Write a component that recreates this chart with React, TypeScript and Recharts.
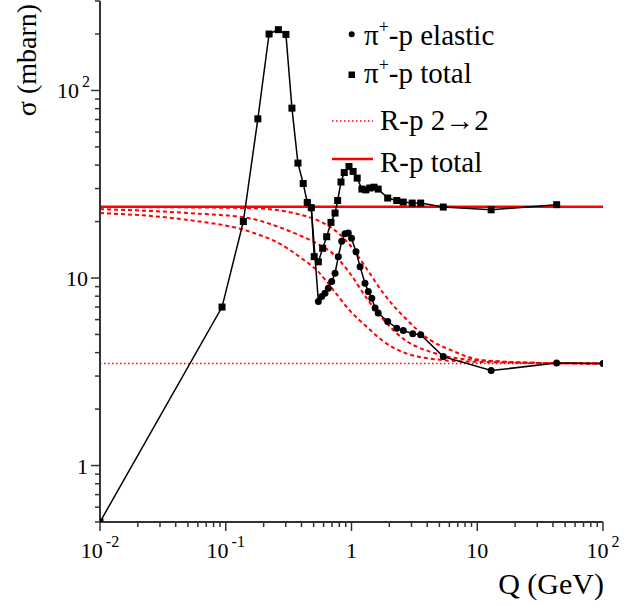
import React from "react";
import { LineChart, Line, XAxis, YAxis, ReferenceLine } from "recharts";

// pi+ p total cross-section (squares)
const totalQ = [0.01, 0.0934, 0.138, 0.18, 0.221, 0.262, 0.301, 0.336, 0.375, 0.413, 0.445, 0.479, 0.505, 0.545, 0.59, 0.635, 0.687, 0.74, 0.776, 0.825, 0.876, 0.955, 1.03, 1.11, 1.21, 1.3, 1.4, 1.51, 1.63, 1.94, 2.29, 2.58, 3.04, 3.55, 5.37, 12.9, 42.8];
const totalSigma = [0.5, 7.0, 20.0, 70.6, 200, 211, 199, 80.5, 41, 31.9, 25.3, 23.7, 13.0, 12.2, 14.4, 16.6, 19.8, 22.2, 25.9, 32.5, 36.5, 39.3, 37.0, 34.1, 29.8, 29.5, 30.2, 30.5, 29.8, 26.7, 25.9, 25.4, 25.1, 25.1, 23.9, 23.1, 24.6];

// pi+ p elastic cross-section (circles)
const elasticQ = [0.445, 0.479, 0.545, 0.579, 0.615, 0.654, 0.696, 0.74, 0.785, 0.836, 0.887, 0.943, 1.0, 1.086, 1.17, 1.28, 1.36, 1.45, 1.54, 1.63, 1.94, 2.29, 2.58, 3.07, 3.55, 5.37, 12.9, 42.8, 100];
const elasticSigma = [25.3, 23.7, 7.5, 7.97, 8.3, 8.83, 9.58, 10.6, 13.0, 15.7, 17.2, 17.4, 16.3, 13.8, 11.5, 9.39, 8.47, 7.81, 6.91, 6.5, 5.86, 5.4, 5.25, 5.04, 4.98, 3.81, 3.21, 3.52, 3.5];

// R-p 2->2 model curves (dashed)
const curveQ = [0.01, 0.05, 0.15, 0.27, 0.41, 0.53, 0.72, 0.97, 1.32, 1.79, 2.75, 4.2, 6.1, 10.5, 19, 36, 100];
const upperSigma = [23.9, 23.8, 23.6, 22.9, 21.6, 20.4, 18.2, 15.0, 11.2, 8.3, 6.0, 4.68, 4.14, 3.66, 3.56, 3.52, 3.5];
const middleSigma = [23.3, 22.2, 20.9, 18.6, 16.6, 15.3, 13.4, 10.6, 7.8, 6.0, 4.6, 4.05, 3.78, 3.64, 3.56, 3.52, 3.5];
const lowerSigma = [22.2, 20.4, 17.8, 15.2, 12.6, 11.0, 8.6, 6.7, 5.5, 4.6, 3.95, 3.72, 3.62, 3.57, 3.54, 3.52, 3.5];

const rpTotal = 24;
const rp22 = 3.5;

const xTicks = [0.01, 0.02, 0.03, 0.04, 0.05, 0.06, 0.07, 0.08, 0.09, 0.1, 0.2, 0.3, 0.4, 0.5, 0.6, 0.7, 0.8, 0.9, 1, 2, 3, 4, 5, 6, 7, 8, 9, 10, 20, 30, 40, 50, 60, 70, 80, 90, 100];
const yTicks = [0.5, 0.6, 0.7, 0.8, 0.9, 1, 2, 3, 4, 5, 6, 7, 8, 9, 10, 20, 30, 40, 50, 60, 70, 80, 90, 100, 200, 300];
const xLabels: Record<string, [string, string]> = {
  "0.01": ["10", "-2"],
  "0.1": ["10", "-1"],
  "1": ["1", ""],
  "10": ["10", ""],
  "100": ["10", "2"],
};
const yLabels: Record<string, [string, string]> = {
  "1": ["1", ""],
  "10": ["10", ""],
  "100": ["10", "2"],
};

const zip = (qs: number[], ss: number[]) => qs.map((q, i) => ({ q, s: ss[i] }));
const totalData = zip(totalQ, totalSigma);
const elasticData = zip(elasticQ, elasticSigma);
const upperData = zip(curveQ, upperSigma);
const middleData = zip(curveQ, middleSigma);
const lowerData = zip(curveQ, lowerSigma);

const serif = {
  fontFamily: "'Liberation Serif', 'Times New Roman', Times, Tinos, 'DejaVu Serif', 'Noto Serif', 'Nimbus Roman', serif",
};
const axisColor = "#333";

const isMajor = (v: number) => Math.abs(Math.log10(v) - Math.round(Math.log10(v))) < 1e-6;

function XTick(props: any) {
  const { x, y, payload } = props;
  const v = payload.value;
  const major = isMajor(v);
  const lbl = major ? xLabels[String(v)] : undefined;
  return (
    <g>
      <line x1={x} x2={x} y1={y} y2={y + (major ? 9 : 5)} stroke={axisColor} strokeWidth={1.5} />
      {lbl && (
        <text x={x} y={y + 36} textAnchor="middle" fontSize={22} style={serif} fill="#000">
          <tspan>{lbl[0]}</tspan>
          {lbl[1] && (
            <tspan dx={3} dy={-11} fontSize={16}>
              {lbl[1]}
            </tspan>
          )}
        </text>
      )}
    </g>
  );
}

function YTick(props: any) {
  const { x, y, payload } = props;
  const v = payload.value;
  const major = isMajor(v);
  const lbl = major ? yLabels[String(v)] : undefined;
  return (
    <g>
      <line x1={x} x2={x - (major ? 9 : 5)} y1={y} y2={y} stroke={axisColor} strokeWidth={1.5} />
      {lbl && !lbl[1] && (
        <text x={x - 12} y={y + 8} textAnchor="end" fontSize={22} style={serif} fill="#000">
          {lbl[0]}
        </text>
      )}
      {lbl && lbl[1] && (
        <text x={x - 10} y={y + 8} textAnchor="end" fontSize={22} style={serif} fill="#000">
          <tspan>{lbl[0]}</tspan>
          <tspan dx={3} dy={-11} fontSize={16}>
            {lbl[1]}
          </tspan>
        </text>
      )}
    </g>
  );
}

function Square(props: any) {
  const { cx, cy } = props;
  if (cx == null || cy == null) return null;
  return <rect x={cx - 3.5} y={cy - 3.5} width={7} height={7} fill="#000" />;
}

function Dot(props: any) {
  const { cx, cy } = props;
  if (cx == null || cy == null) return null;
  return <circle cx={cx} cy={cy} r={3.5} fill="#000" />;
}

export default function App() {
  return (
    <div style={{ position: "absolute", left: 0, top: 0, width: 629, height: 607, background: "#fff", ...serif }}>
      <LineChart width={629} height={607} margin={{ top: 1, right: 26, bottom: 0, left: 0 }}>
        <XAxis
          xAxisId="top"
          orientation="top"
          type="number"
          dataKey="q"
          scale="log"
          domain={[0.01, 100]}
          allowDataOverflow
          height={0}
          tick={false}
          tickLine={false}
          axisLine={{ stroke: axisColor, strokeWidth: 1.5 }}
        />
        <YAxis
          yAxisId="right"
          orientation="right"
          type="number"
          scale="log"
          domain={[0.5, 300]}
          allowDataOverflow
          width={0}
          tick={false}
          tickLine={false}
          axisLine={{ stroke: "#666", strokeWidth: 1.5 }}
        />
        <XAxis
          type="number"
          dataKey="q"
          scale="log"
          domain={[0.01, 100]}
          allowDataOverflow
          ticks={xTicks}
          interval={0}
          height={85}
          tickSize={0}
          tickMargin={0}
          tickLine={false}
          tick={<XTick />}
          axisLine={{ stroke: axisColor, strokeWidth: 2 }}
        />
        <YAxis
          type="number"
          dataKey="s"
          scale="log"
          domain={[0.5, 300]}
          allowDataOverflow
          ticks={yTicks}
          interval={0}
          width={100}
          tickSize={0}
          tickMargin={0}
          tickLine={false}
          tick={<YTick />}
          axisLine={{ stroke: axisColor, strokeWidth: 2 }}
        />
        <ReferenceLine y={rp22} stroke="#ff0000" strokeWidth={1.5} strokeDasharray="1.5 2.5" />
        <ReferenceLine y={rpTotal} stroke="#ff0000" strokeWidth={2.5} />
        <Line data={upperData} dataKey="s" type="monotone" stroke="#ff0000" strokeWidth={2} strokeDasharray="4 3" dot={false} isAnimationActive={false} />
        <Line data={middleData} dataKey="s" type="monotone" stroke="#ff0000" strokeWidth={2} strokeDasharray="4 3" dot={false} isAnimationActive={false} />
        <Line data={lowerData} dataKey="s" type="monotone" stroke="#ff0000" strokeWidth={2} strokeDasharray="4 3" dot={false} isAnimationActive={false} />
        <Line data={elasticData} dataKey="s" type="linear" stroke="#000" strokeWidth={1.5} dot={<Dot />} isAnimationActive={false} />
        <Line data={totalData} dataKey="s" type="linear" stroke="#000" strokeWidth={1.5} dot={<Square />} isAnimationActive={false} />
      </LineChart>
      <svg width={629} height={607} style={{ position: "absolute", left: 0, top: 0, pointerEvents: "none" }}>
        <text transform="translate(36, 60) rotate(-90)" textAnchor="middle" fontSize={28} style={serif} fill="#000">
          σ (mbarn)
        </text>
        <text x={604} y={594} textAnchor="end" fontSize={30} style={serif} fill="#000">
          Q (GeV)
        </text>
        <circle cx={351.7} cy={34.3} r={3} fill="#000" />
        <text x={364} y={45} fontSize={29} style={serif} fill="#000">
          π<tspan dy={-12} fontSize={18}>+</tspan>
          <tspan dy={12}>-p elastic</tspan>
        </text>
        <rect x={348.5} y={71.5} width={6.5} height={6.5} fill="#000" />
        <text x={364} y={83} fontSize={29} style={serif} fill="#000">
          π<tspan dy={-12} fontSize={18}>+</tspan>
          <tspan dy={12}>-p total</tspan>
        </text>
        <line x1={332} x2={373} y1={121} y2={121} stroke="#ff0000" strokeWidth={1.5} strokeDasharray="1.5 2.5" />
        <text x={380} y={130} fontSize={29} style={serif} fill="#000">
          R-p 2→2
        </text>
        <line x1={332} x2={373} y1={159} y2={159} stroke="#ff0000" strokeWidth={2.5} />
        <text x={380} y={172} fontSize={29} style={serif} fill="#000">
          R-p total
        </text>
      </svg>
    </div>
  );
}
